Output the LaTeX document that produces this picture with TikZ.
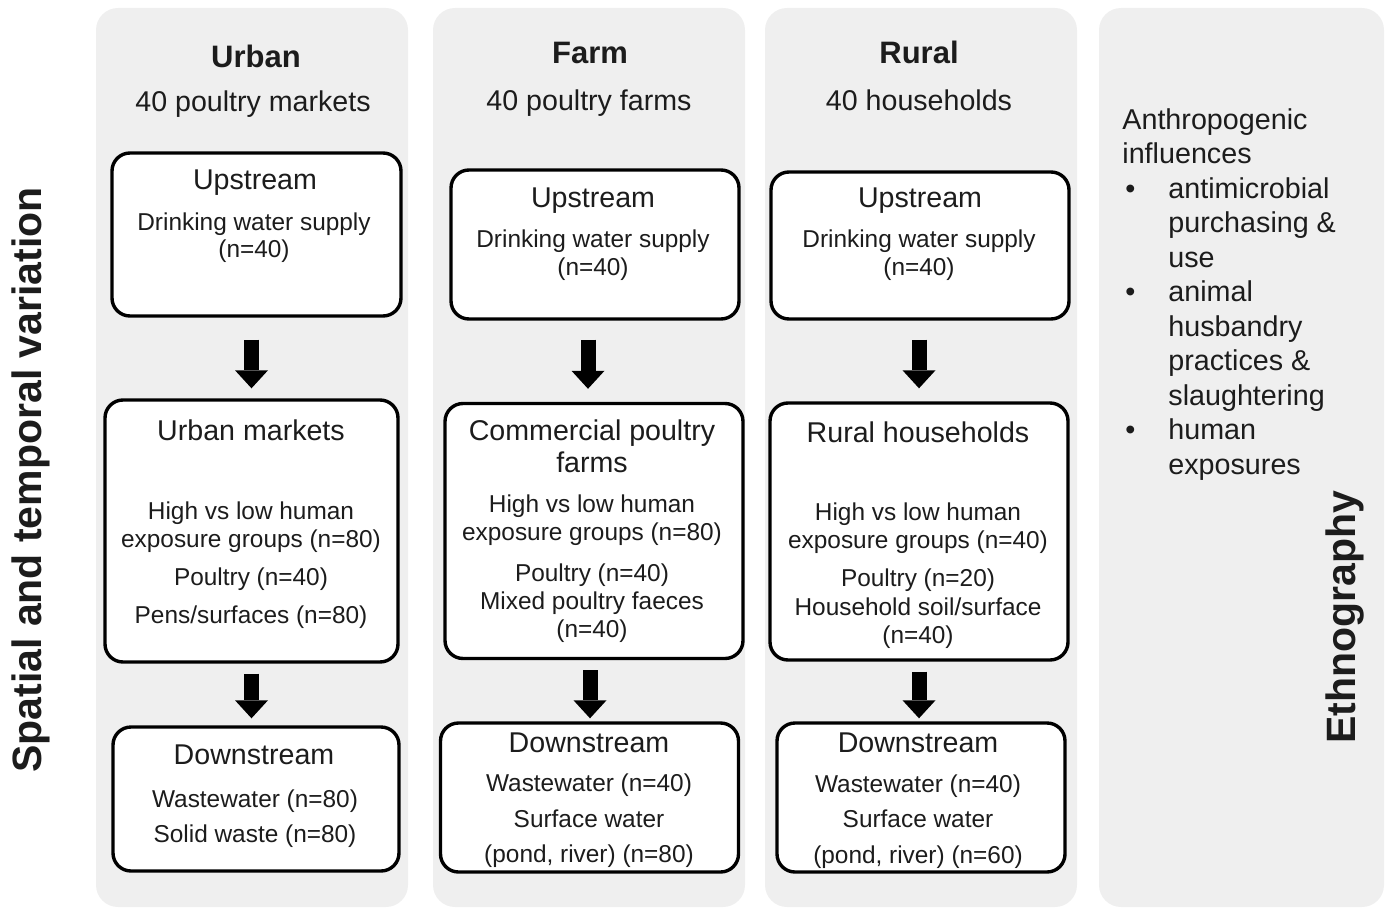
\documentclass[tikz,border=0pt]{standalone}
\usepackage{fontspec}
\setmainfont{Liberation Sans}
\usetikzlibrary{arrows.meta}
\definecolor{panelgray}{HTML}{EFEFEF}
\definecolor{inkgray}{HTML}{1C1C1C}
\newcommand{\ethbullet}{\makebox[23pt][l]{\hspace{1.5pt}\textbullet}}
\newcommand{\ethindent}{\hspace*{23pt}}
\tikzset{
  panel/.style={fill=panelgray, draw=none, rounded corners=11pt},
  box/.style={draw=black, line width=1.7pt, rounded corners=9pt, fill=white, inner sep=0pt},
  hdr/.style={anchor=base, inner sep=0pt, text=inkgray, font=\fontsize{15.5}{18}\selectfont\bfseries},
  sub/.style={anchor=base, inner sep=0pt, text=inkgray, font=\fontsize{14.3}{17}\selectfont},
  ttl/.style={anchor=base, inner sep=0pt, text=inkgray, font=\fontsize{14.3}{17}\selectfont},
  txt/.style={anchor=base, inner sep=0pt, text=inkgray, font=\fontsize{12.2}{14}\selectfont},
  side/.style={rotate=90, inner sep=0pt, text=inkgray, font=\fontsize{20.5}{24}\selectfont\bfseries},
  blk/.style={line width=7.5pt, -{Triangle[width=16.5pt,length=9pt,line width=0pt]}},
}
\begin{document}
\begin{tikzpicture}[x=0.5pt,y=-0.5pt]
  \useasboundingbox (0,0) rectangle (1390,909);

  % background columns
  \fill[panel] (96,8) rectangle (408,907);
  \fill[panel] (433,8) rectangle (745,907);
  \fill[panel] (765,8) rectangle (1077,907);
  \fill[panel] (1099,8) rectangle (1384,907);

  % side labels
  \node[side] (spatial) at (31,480) {Spatial and temporal variation};
  \node[side] (ethno) at (1345,617) {Ethnography};

  % urban
  \node[hdr] (urban) at (256,68) {Urban};
  \node[sub] (urbansub) at (253,112) {40 poultry markets};
  \node[box, minimum width=144.5pt, minimum height=81.5pt] (up1) at (256.5,234.5) {};
  \node[ttl] (up1t) at (255,190) {Upstream};
  \node[txt] (up1a) at (254,230) {Drinking water supply};
  \node[txt] (up1b) at (254,257) {(n=40)};
  \node[box, minimum width=146.5pt, minimum height=131pt] (mid1) at (251.5,531) {};
  \node[ttl] (mid1t) at (251,440) {Urban markets};
  \node[txt] (mid1a) at (251,519) {High vs low human};
  \node[txt] (mid1b) at (251,547) {exposure groups (n=80)};
  \node[txt] (mid1c) at (251,585) {Poultry (n=40)};
  \node[txt] (mid1d) at (251,623) {Pens/surfaces (n=80)};
  \node[box, minimum width=143pt, minimum height=72pt] (dn1) at (256,799) {};
  \node[ttl] (dn1t) at (254,764) {Downstream};
  \node[txt] (dn1a) at (255,807) {Wastewater (n=80)};
  \node[txt] (dn1b) at (255,842) {Solid waste (n=80)};

  % farm
  \node[hdr] (farm) at (590,64) {Farm};
  \node[sub] (farmsub) at (589,111) {40 poultry farms};
  \node[box, minimum width=144pt, minimum height=74.5pt] (up2) at (595,244.5) {};
  \node[ttl] (up2t) at (593,207) {Upstream};
  \node[txt] (up2a) at (593,247) {Drinking water supply};
  \node[txt] (up2b) at (593,275) {(n=40)};
  \node[box, minimum width=149pt, minimum height=127.5pt] (mid2) at (594,531) {};
  \node[ttl] (mid2t) at (592,440) {Commercial poultry};
  \node[ttl] (mid2u) at (592,472) {farms};
  \node[txt] (mid2a) at (592,512) {High vs low human};
  \node[txt] (mid2b) at (592,540) {exposure groups (n=80)};
  \node[txt] (mid2c) at (592,581) {Poultry (n=40)};
  \node[txt] (mid2d) at (592,609) {Mixed poultry faeces};
  \node[txt] (mid2e) at (592,637) {(n=40)};
  \node[box, minimum width=149pt, minimum height=74.5pt] (dn2) at (589.5,797.5) {};
  \node[ttl] (dn2t) at (589,752) {Downstream};
  \node[txt] (dn2a) at (589,791) {Wastewater (n=40)};
  \node[txt] (dn2b) at (589,827) {Surface water};
  \node[txt] (dn2c) at (589,862) {(pond, river) (n=80)};

  % rural
  \node[hdr] (rural) at (919,64) {Rural};
  \node[sub] (ruralsub) at (919,111) {40 households};
  \node[box, minimum width=149pt, minimum height=73.5pt] (up3) at (920,245.5) {};
  \node[ttl] (up3t) at (920,207) {Upstream};
  \node[txt] (up3a) at (919,247) {Drinking water supply};
  \node[txt] (up3b) at (919,275) {(n=40)};
  \node[box, minimum width=149pt, minimum height=128.5pt] (mid3) at (919,531.5) {};
  \node[ttl] (mid3t) at (918,442) {Rural households};
  \node[txt] (mid3a) at (918,520) {High vs low human};
  \node[txt] (mid3b) at (918,548) {exposure groups (n=40)};
  \node[txt] (mid3c) at (918,586) {Poultry (n=20)};
  \node[txt] (mid3d) at (918,615) {Household soil/surface};
  \node[txt] (mid3e) at (918,643) {(n=40)};
  \node[box, minimum width=144pt, minimum height=74.5pt] (dn3) at (921,797.5) {};
  \node[ttl] (dn3t) at (918,752) {Downstream};
  \node[txt] (dn3a) at (918,792) {Wastewater (n=40)};
  \node[txt] (dn3b) at (918,827) {Surface water};
  \node[txt] (dn3c) at (918,863) {(pond, river) (n=60)};

  % ethnography notes
  \node[anchor=north west, inner sep=0pt, align=left, text=inkgray,
        font=\fontsize{14.35}{17.25}\selectfont] (anthro) at (1122,108)
    {Anthropogenic\\influences\\
     \ethbullet antimicrobial\\\ethindent purchasing \&\\\ethindent use\\
     \ethbullet animal\\\ethindent husbandry\\\ethindent practices \&\\\ethindent slaughtering\\
     \ethbullet human\\\ethindent exposures};

  % arrows
  \draw[blk, shorten <=11pt, shorten >=5pt] (up1.south -| mid1.north) -- (mid1.north);
  \draw[blk, shorten <=5pt, shorten >=3.5pt] (mid1.south) -- (mid1.south |- dn1.north);
  \draw[blk, shorten <=9.5pt, shorten >=6.5pt] ([xshift=-3pt]mid2.north |- up2.south) -- ([xshift=-3pt]mid2.north);
  \draw[blk, shorten <=5pt, shorten >=1.5pt] ([xshift=-2pt]mid2.south) -- ([xshift=-2pt]mid2.south |- dn2.north);
  \draw[blk, shorten <=9.5pt, shorten >=6.5pt] (up3.south -| mid3.north) -- (mid3.north);
  \draw[blk, shorten <=5pt, shorten >=1.5pt] (mid3.south) -- (mid3.south |- dn3.north);
\end{tikzpicture}
\end{document}
